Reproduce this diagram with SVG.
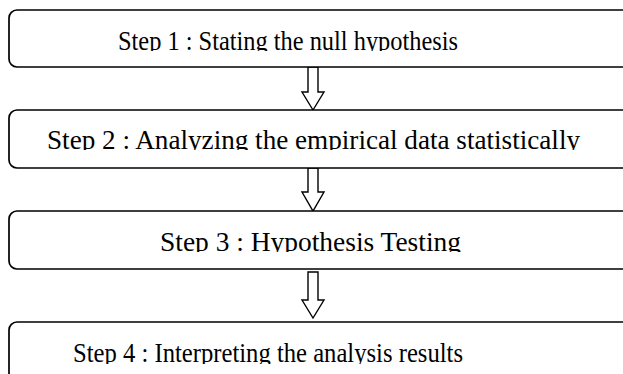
<svg xmlns="http://www.w3.org/2000/svg" width="623" height="374" viewBox="0 0 623 374">
<style>
.box{fill:#fff;stroke:#000;stroke-width:1.7}
.arrow{fill:#fff;stroke:#000;stroke-width:1.4;stroke-linejoin:miter}
.lbl{font-family:"Liberation Serif","Times New Roman",serif;font-size:28px;fill:#000}
</style>
<defs>
<clipPath id="c1"><rect x="0" y="10" width="623" height="41"/></clipPath>
<clipPath id="c2"><rect x="0" y="110" width="623" height="40"/></clipPath>
<clipPath id="c3"><rect x="0" y="212" width="623" height="40"/></clipPath>
<clipPath id="c4"><rect x="0" y="322" width="623" height="42"/></clipPath>
</defs>
<rect width="623" height="374" fill="#fff"/>
<g id="connectors">
<polygon class="arrow" points="308,67 318,67 318,92 324,92 313,110 302,92 308,92"/>
<polygon class="arrow" points="308,168 318,168 318,192 324,192 313,211 302,192 308,192"/>
<polygon class="arrow" points="308,272 318,272 318,300 324,300 313,318 302,300 308,300"/>
</g>
<g id="step1">
<rect class="box" x="9" y="10" width="640" height="57" rx="8"/>
<text class="lbl" x="118" y="50" textLength="340" lengthAdjust="spacingAndGlyphs" clip-path="url(#c1)">Step 1 : Stating the null hypothesis</text>
</g>
<g id="step2">
<rect class="box" x="9" y="110" width="640" height="58" rx="8"/>
<text class="lbl" x="47" y="149" textLength="533" lengthAdjust="spacingAndGlyphs" clip-path="url(#c2)">Step 2 : Analyzing the empirical data statistically</text>
</g>
<g id="step3">
<rect class="box" x="9" y="211" width="640" height="58" rx="8"/>
<text class="lbl" x="160" y="251" textLength="301" lengthAdjust="spacingAndGlyphs" clip-path="url(#c3)">Step 3 : Hypothesis Testing</text>
</g>
<g id="step4">
<rect class="box" x="9" y="322" width="640" height="80" rx="8"/>
<text class="lbl" x="73" y="362" textLength="390" lengthAdjust="spacingAndGlyphs" clip-path="url(#c4)">Step 4 : Interpreting the analysis results</text>
</g>
</svg>
